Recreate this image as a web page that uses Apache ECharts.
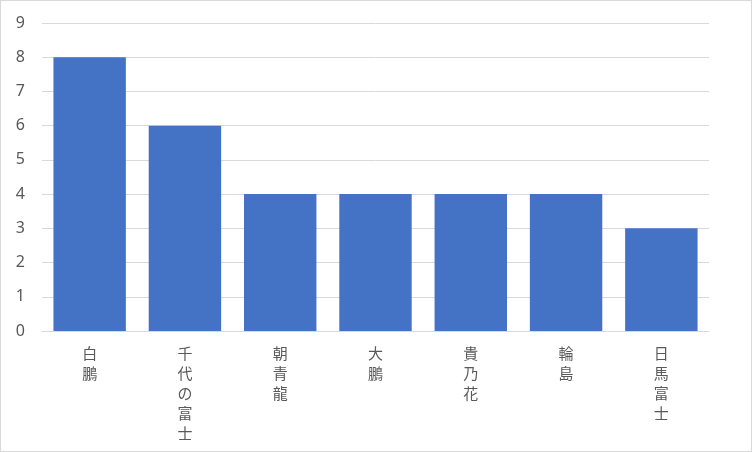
<!DOCTYPE html>
<html><head><meta charset="utf-8">
<script src="https://cdn.jsdelivr.net/npm/echarts@6/dist/echarts.min.js"></script>
<style>html,body{margin:0;padding:0;background:#fff}#c{width:752px;height:452px;box-sizing:border-box;border:1px solid #d9d9d9}</style>
</head><body><div id="c"></div>
<script>
var categories = ['白鵬','千代の富士','朝青龍','大鵬','貴乃花','輪島','日馬富士'];
var values = [8,6,4,4,4,4,3];
var yTicks = [0,1,2,3,4,5,6,7,8,9];
var chart = echarts.init(document.getElementById('c'), null, {renderer:'canvas'});
chart.setOption({
  animation:false,
  grid:{left:41,right:42,top:22,bottom:120,containLabel:false},
  xAxis:{type:'category',data:categories,
    axisLine:{lineStyle:{color:'#d9d9d9',width:1}},
    axisTick:{show:false},
    axisLabel:{color:'#595959',fontSize:15,lineHeight:20,margin:12,
      fontFamily:'"Noto Sans CJK JP"',
      formatter:function(v){return v.split('').join('\n');}}},
  yAxis:{type:'value',min:yTicks[0],max:yTicks[yTicks.length-1],interval:1,
    axisLine:{show:false},axisTick:{show:false},
    splitLine:{lineStyle:{color:'#d9d9d9',width:1}},
    axisLabel:{color:'#595959',fontSize:16,margin:17,fontFamily:'"Noto Sans"'}},
  series:[{type:'bar',data:values,barCategoryGap:'24%',itemStyle:{color:'#4472C4'}}]
});
</script></body></html>
